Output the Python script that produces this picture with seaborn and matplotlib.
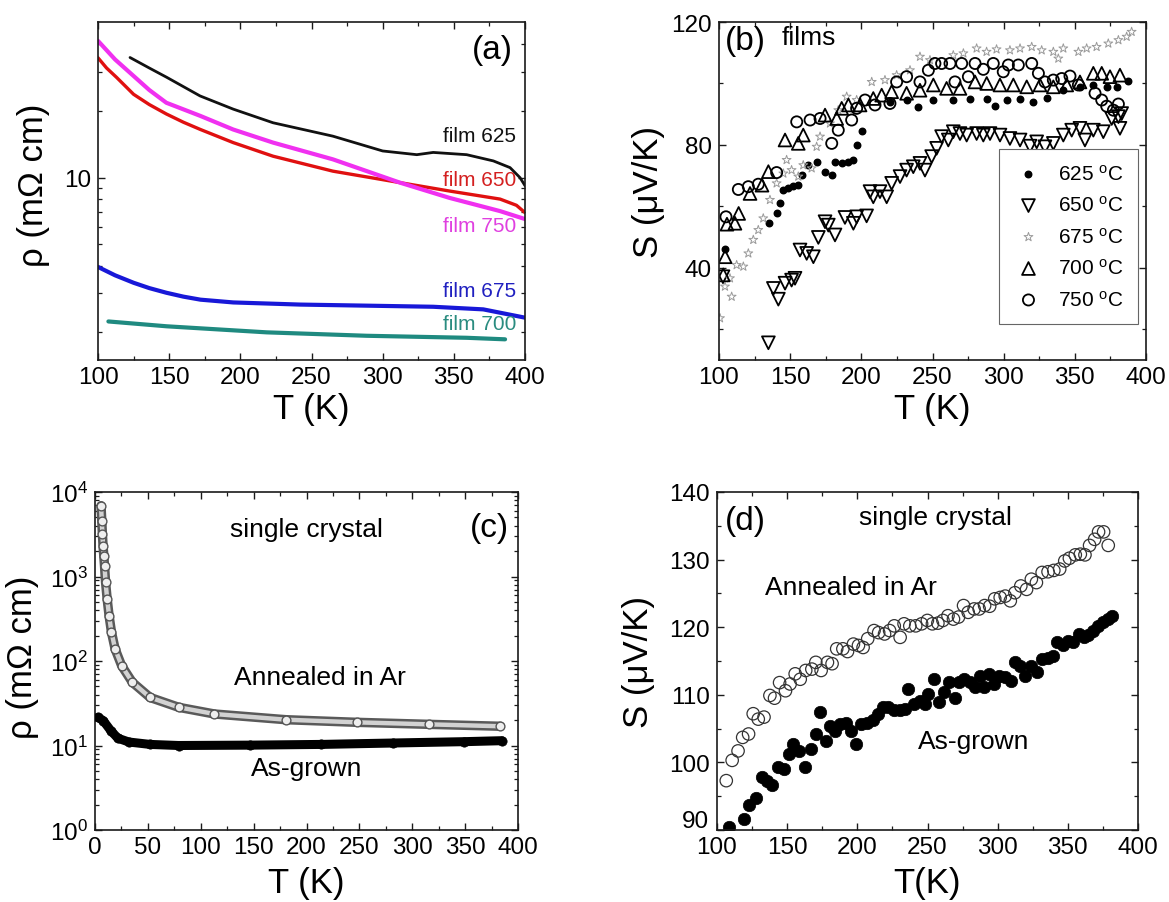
import numpy as np
import pandas as pd
import matplotlib
matplotlib.use("Agg")
import matplotlib.pyplot as plt
import matplotlib.patheffects as pe
from matplotlib.ticker import (FixedLocator, FixedFormatter, NullFormatter, FuncFormatter,
                               MultipleLocator, LogLocator, LogFormatterMathtext)
import seaborn as sns

# ---------------- (a) film resistivity ----------------
T625 = [122.5, 136, 148.3, 171.7, 195, 223, 265, 300, 324, 335.5, 359, 377.8, 389.5, 396.5, 400]
R625 = [34.9, 31.3, 28.4, 23.4, 20.4, 17.7, 15.4, 13.2, 12.7, 13.0, 12.7, 11.9, 11.1, 10.0, 9.2]

T650 = [100, 106, 113, 125, 136, 148, 160, 172, 195, 223, 265, 312, 347, 382.5, 394, 400]
R650 = [34.8, 31.3, 28.4, 23.8, 21.4, 19.4, 17.8, 16.5, 14.4, 12.5, 10.7, 9.5, 8.7, 8.0, 7.5, 6.95]

T750 = [100, 112, 125, 136, 148, 172, 195, 223, 265, 312, 347, 382.5, 400]
R750 = [41.5, 34.2, 28.8, 24.9, 21.8, 19.0, 16.5, 14.4, 12.1, 9.5, 8.1, 7.06, 6.5]

T675 = [100, 112, 125, 136, 148, 160, 172, 195, 242, 289, 335.5, 370.7, 400]
R675 = [3.95, 3.62, 3.35, 3.17, 3.02, 2.90, 2.81, 2.73, 2.67, 2.64, 2.61, 2.54, 2.33]

T700 = [107.3, 148.3, 218.5, 288.8, 359, 386]
R700 = [2.24, 2.13, 2.00, 1.93, 1.89, 1.86]

# ---------------- (b) film thermopower ----------------
T_b625 = [104.2, 135.4, 140.5, 142.9, 145.2, 148.7, 152.2, 155.7, 158.1, 162.8, 168.6,
          174.5, 179.2, 181.5, 186.2, 190.9, 194.4, 196.7, 200.2, 220.1, 231.8, 240,
          250.6, 264.6, 276.3, 288, 293.9, 302.1, 311.5, 320.8, 330.2, 341.9, 353.6,
          363, 372.4, 379.4, 387.6]
S_b625 = [46, 54.5, 57.7, 61, 65.3, 65.9, 66.6, 67, 70.2, 73.4, 74.5,
          71.3, 70.2, 74.5, 74, 74.5, 75.1, 79.9, 84.6, 94, 94.6, 92.2,
          94.6, 94.6, 95.1, 95.1, 92.6, 94.6, 95.1, 94, 95.4, 97.8, 98.9,
          99.5, 98.9, 98.9, 100.8]

T_b650 = [102.8, 134.7, 138.2, 141.7, 146.4, 151, 153.4, 156.9, 161.6, 166.3, 169.8,
          174.5, 176.8, 181.5, 188.5, 194.4, 196.7, 203.7, 206.1, 208.4, 213.1,
          217.8, 221.3, 227.2, 231.8, 236.5, 241.2, 244.7, 249.4, 252.9, 256.4,
          261.1, 264.6, 269.3, 274, 281, 285.7, 290.4, 297.4, 304.4, 311.5, 318.5,
          323.2, 329, 334.9, 341.9, 347.8, 353.6, 357.1, 363, 370, 375.9, 380.6,
          381.7, 382.9]
S_b650 = [37.1, 15.6, 33.3, 29.8, 35, 36, 36.6, 45.8, 44.7, 43.6, 49.9,
          55, 53.9, 50.7, 56.4, 54.5, 56.6, 56.9, 64.8, 63.1, 64.8,
          63.1, 67.5, 69.7, 71.8, 72.9, 74, 71.8, 76.2, 78.9, 82.7,
          81.6, 84.3, 83.7, 83.2, 83.7, 83.2, 83.7, 83.2, 82.1, 81.6, 79.6,
          81, 79.4, 80.5, 83.2, 84.8, 85.4, 81.6, 84.8, 84.3, 88.6, 89.2,
          85.4, 90.2]

T_b675 = [100.7, 104.2, 108.9, 107.7, 112.4, 117.1, 120.6, 124.1, 127.6, 131.1, 135.8,
          140.5, 145.2, 147.5, 151, 155.7, 159.2, 165.1, 168.6, 171, 178, 183.8,
          189.7, 196.7, 207.3, 216.6, 224.8, 234.2, 241.2, 248.2, 264.6, 271.7,
          281, 288, 295, 304.4, 311.5, 319.7, 326.7, 334.9, 338.4, 341.9, 352.5,
          358.3, 365.3, 373.5, 380.6, 386.4, 389.9]
S_b675 = [23.6, 33.9, 30.6, 36.6, 40.9, 40.4, 44.7, 49.1, 52.3, 56.1, 62.1,
          67.5, 70.7, 75.1, 71.8, 69.7, 73.4, 72.4, 79.4, 82.7, 87, 91.3,
          95.7, 94.6, 100.5, 101.1, 102.7, 104.3, 108.7, 107.6, 109.2, 109.8,
          111.4, 110.3, 111.1, 110.8, 111.4, 111.9, 110.8, 110.3, 108.1, 111.4, 110.3,
          111.4, 111.9, 113, 114.1, 115.2, 116.8]

T_b700 = [103, 104.3, 105.6, 111.2, 113.8, 121.8, 130.2, 134.7, 146.4, 155.7, 159.2,
          174.5, 182.7, 186.2, 190.9, 199.1, 208.4, 214.3, 221.3, 231.8, 241.2,
          250.6, 259.9, 269.3, 279.9, 288.1, 297.4, 306.8, 316.2, 325.5, 334.9,
          344.3, 353.6, 363, 368.9, 374.7, 381.7]
S_b700 = [37.7, 43.6, 54.2, 54.5, 57.7, 64.2, 66.9, 71.3, 81.6, 80.5, 83.2,
          89.7, 88.6, 91.9, 93, 93, 95.1, 96.2, 97.3, 96.8, 97.8,
          99.5, 98.4, 98.4, 100.5, 100, 99.5, 99.5, 98.9, 99.5, 98.9,
          99.5, 100.5, 103.3, 103.3, 102.2, 102.7]

T_b750 = [104.9, 113.6, 120.6, 127.6, 140.5, 154.6, 164, 171, 179.2, 183.8, 193.2,
          196.7, 202.6, 209.6, 220.1, 224.8, 231.8, 241.2, 247.1, 251.7, 256.4,
          262.3, 265.8, 270.5, 275.2, 279.9, 285.7, 292.7, 299.7, 303.3, 310.3,
          319.7, 324.4, 329, 334.9, 340.8, 346.6, 352.5, 364.2, 368.9, 372.4,
          377.1, 380.6]
S_b750 = [56.6, 65.5, 66.4, 67.2, 71, 87.5, 88.1, 88.6, 80.5, 84.8, 88.1,
          91.9, 94.6, 93, 93.5, 100.5, 102.2, 100.5, 104.3, 106.5, 106.5,
          106.5, 100.5, 106.5, 102.2, 106.5, 104.6, 106.5, 103.8, 106, 106,
          106.5, 103.3, 100.5, 101.1, 101.6, 102.4, 99.5, 96.8, 94.6, 92.6,
          91.3, 93.3]

legend_labels = ["625 $^\\mathrm{o}$C", "650 $^\\mathrm{o}$C", "675 $^\\mathrm{o}$C",
                 "700 $^\\mathrm{o}$C", "750 $^\\mathrm{o}$C"]

# ---------------- (c) single-crystal resistivity ----------------
T_ann_c = [5.7, 6.4, 7.0, 7.6, 8.3, 9.0, 10.0, 11.5, 13.3, 15.6, 19.0, 25.2, 35.3,
           52.1, 79.2, 112.9, 180.5, 248, 315.7, 383.2]
R_ann_c = [6890, 4570, 3185, 2317, 1766, 1343, 853, 542, 344, 219, 139, 88, 56,
           37, 28.3, 23.6, 20.2, 18.8, 17.8, 16.9]

T_grown_c = [3, 7.8, 14.9, 21.6, 32, 52, 79, 146.5, 214, 281.6, 349, 384.7]
R_grown_c = [21.5, 19.7, 15.0, 12.2, 11.0, 10.3, 10.0, 10.1, 10.3, 10.7, 11.1, 11.4]

# ---------------- (d) single-crystal thermopower ----------------
T_ann_d = [106.6, 110.8, 115, 118.3, 122.5, 125.8, 129.4, 133.5, 137.7, 141, 144.6,
           148.8, 152.1, 155.7, 159.3, 163.2, 167.6, 170.4, 174.2, 178.7, 182,
           185.3, 189.7, 193, 197.2, 200.8, 204.1, 207.4, 211.9, 215.2, 219.4,
           223, 226.3, 230.5, 233.3, 237.4, 241.6, 245.8, 249.9, 253.5, 257.4,
           261, 264.6, 268.5, 272.1, 275.7, 279, 283.2, 286.8, 290.7, 294.3,
           297.9, 301.8, 305.4, 309, 312.3, 316.5, 320.6, 324, 327.6, 331.7,
           335.9, 340, 344.2, 347.8, 351.1, 355.3, 358.9, 362.2, 365.5, 369.1,
           371.9, 375.5, 378.8]
S_ann_d = [97.3, 100.3, 101.7, 103.7, 104.2, 107.2, 106.4, 106.7, 109.9, 109.5, 111.8,
           110.6, 111.6, 113.1, 112.3, 113.6, 113.8, 114.8, 113.6, 114.8, 114.6,
           116.8, 116.8, 116.4, 117.5, 117.3, 117, 118.3, 119.5, 119.2, 119,
           119.5, 120.2, 118.5, 120.5, 120.2, 120.2, 120.5, 121, 120.5, 120.6,
           121, 121.7, 121.2, 121.5, 123.2, 122.2, 122.7, 122.7, 123.2, 123.1,
           124.2, 124.4, 124.6, 123.9, 125.1, 126.1, 125.6, 127.1, 126.6, 128.1,
           128.2, 128.4, 128.6, 129.8, 130.2, 130.7, 130.8, 130.7, 132.1, 133,
           134.1, 134.1, 132.1]

T_grown_d = [108.6, 119.1, 123, 128, 132.2, 135.8, 139.1, 143.2, 147.4, 151, 154.3,
             158.4, 162.6, 166.8, 170.4, 173.7, 177.9, 180.6, 184.2, 187.5, 191.7,
             195.3, 199.2, 202.8, 206.9, 211.1, 214.7, 218.6, 222.2, 226.3, 230.5,
             234.1, 236, 240.2, 244.3, 247.9, 250.7, 254.6, 258.2, 261.8, 265.1,
             269.3, 272.8, 276.1, 280.3, 283.9, 287.2, 290.5, 294.1, 297.7, 301,
             305.2, 309.3, 312.7, 316.2, 319.8, 323.7, 328.1, 331.4, 335.6, 339.7,
             342.5, 346.7, 350.3, 353.6, 357.8, 361.4, 364.7, 368, 371.6, 375.2,
             378.5, 381.8]
S_grown_d = [90.4, 91.6, 93.7, 94.8, 97.8, 97.3, 96.6, 99.3, 99, 101.2, 102.7,
             101.7, 99.3, 102, 104.2, 107.4, 103.2, 105.4, 104.7, 105.7, 105.9,
             104.7, 102.7, 105.7, 105.9, 106.2, 107.2, 108.2, 108.2, 107.7, 107.7,
             107.9, 110.9, 108.6, 109.1, 108.6, 110.1, 112.3, 108.9, 110.4, 111.9,
             109.6, 111.9, 112.3, 111.9, 111.1, 112.8, 111.1, 113.1, 111.6, 112.8,
             112.6, 112.1, 114.8, 114.3, 112.8, 114.3, 113.3, 115.3, 115.5, 115.8,
             117.8, 117.3, 118, 117.8, 119, 118.5, 118.8, 119.5, 120.2, 120.7,
             121.2, 121.7]

# ---------------- styling ----------------
sns.set_theme(style="ticks")
plt.rcParams.update({
    "font.family": ["Liberation Sans", "DejaVu Sans"],
    "mathtext.fontset": "custom",
    "mathtext.rm": "Liberation Sans",
    "mathtext.it": "Liberation Sans:italic",
    "mathtext.bf": "Liberation Sans:bold",
    "text.color": "black",
    "axes.labelcolor": "black",
    "axes.edgecolor": "#1a1a1a",
    "axes.linewidth": 1.2,
    "xtick.direction": "in",
    "ytick.direction": "in",
    "xtick.top": True,
    "ytick.right": True,
    "xtick.major.size": 5,
    "ytick.major.size": 5,
    "xtick.minor.size": 2.8,
    "ytick.minor.size": 2.8,
    "xtick.major.width": 1.0,
    "ytick.major.width": 1.0,
    "xtick.minor.width": 0.9,
    "ytick.minor.width": 0.9,
    "xtick.color": "#1a1a1a",
    "ytick.color": "#1a1a1a",
    "xtick.labelcolor": "black",
    "ytick.labelcolor": "black",
    "xtick.labelsize": 17.5,
    "ytick.labelsize": 17.5,
    "xtick.major.pad": 4.5,
    "ytick.major.pad": 5,
})
TICK_FS = 17.5

W, H = 1169, 903
fig = plt.figure(figsize=(W / 100, H / 100), dpi=100)


def frame(x0, y0, x1, y1):
    return fig.add_axes([x0 / W, 1 - y1 / H, (x1 - x0) / W, (y1 - y0) / H])


ax_a = frame(98, 23, 525, 361)
ax_b = frame(719, 23, 1146, 361)
ax_c = frame(95, 493, 518, 831)
ax_d = frame(717, 493, 1138, 831)

LAB = 25

# (a)
film_styles = [
    (T625, R625, "#111111", 2.0),
    (T650, R650, "#e01010", 2.4),
    (T750, R750, "#f030f0", 3.0),
    (T675, R675, "#1818d8", 3.0),
    (T700, R700, "#1f8a80", 3.0),
]
for t, r, c, lw in film_styles:
    sns.lineplot(x=t, y=r, ax=ax_a, color=c, linewidth=lw, estimator=None, sort=False)
ax_a.set_yscale("log")
ax_a.set_xlim(100, 400)
ax_a.set_ylim(1.5, 50.5)
ax_a.xaxis.set_major_locator(MultipleLocator(50))
ax_a.xaxis.set_minor_locator(MultipleLocator(25))
ax_a.yaxis.set_major_locator(FixedLocator([10]))
ax_a.yaxis.set_major_formatter(FixedFormatter(["10"]))
ax_a.yaxis.set_minor_locator(FixedLocator([2, 3, 4, 5, 6, 7, 8, 9, 20, 30, 40]))
ax_a.yaxis.set_minor_formatter(NullFormatter())
film_labels = [("film 625", 0.664, "#111111"), ("film 650", 0.533, "#d42020"),
               ("film 750", 0.397, "#e040e0"), ("film 675", 0.205, "#2020c0"),
               ("film 700", 0.109, "#2a8c80")]
for txt, yy, c in film_labels:
    ax_a.text(0.979, yy, txt, transform=ax_a.transAxes, ha="right", va="center",
              fontsize=15, color=c)
ax_a.text(0.972, 0.92, "(a)", transform=ax_a.transAxes, ha="right", va="center", fontsize=24)
ax_a.set_xlabel("T (K)", fontsize=LAB)
ax_a.set_ylabel("ρ (mΩ cm)", fontsize=LAB)
ax_a.xaxis.set_label_coords(0.5, -0.095)
ax_a.yaxis.set_label_coords(-0.112, 0.52)

# (b)
b_series = [
    (T_b625, S_b625, "o", 22, "black", "black", 1.0),
    (T_b650, S_b650, "v", 85, "none", "black", 1.3),
    (T_b675, S_b675, "*", 45, "none", "#9a9a9a", 0.7),
    (T_b700, S_b700, "^", 85, "none", "black", 1.3),
    (T_b750, S_b750, "o", 64, "none", "black", 1.3),
]
for (t, s, m, sz, fc, ec, lw), lab in zip(b_series, legend_labels):
    sns.scatterplot(x=t, y=s, ax=ax_b, marker=m, s=sz, color=ec, facecolor=fc,
                    edgecolor=ec, linewidth=lw, label=lab)
ax_b.set_xlim(100, 400)
ax_b.set_ylim(10, 120)
ax_b.xaxis.set_major_locator(MultipleLocator(50))
ax_b.xaxis.set_minor_locator(MultipleLocator(25))
ax_b.yaxis.set_major_locator(MultipleLocator(40))
ax_b.yaxis.set_minor_locator(MultipleLocator(20))
leg = ax_b.legend(loc="lower right", bbox_to_anchor=(0.981, 0.1065), borderaxespad=0,
                  fontsize=15, labelspacing=0.55, handletextpad=0.7, borderpad=0.7,
                  handlelength=1.4, frameon=True, fancybox=False, framealpha=1,
                  edgecolor="#666666")
leg.get_frame().set_linewidth(0.8)
ax_b.text(0.014, 0.945, "(b)", transform=ax_b.transAxes, ha="left", va="center", fontsize=24)
ax_b.text(0.146, 0.956, "films", transform=ax_b.transAxes, ha="left", va="center", fontsize=19)
ax_b.set_xlabel("T (K)", fontsize=LAB)
ax_b.set_ylabel("S (μV/K)", fontsize=LAB)
ax_b.xaxis.set_label_coords(0.5, -0.095)
ax_b.yaxis.set_label_coords(-0.126, 0.501)

# (c)
sns.lineplot(x=T_ann_c, y=R_ann_c, ax=ax_c, color="#d2d2d2", linewidth=3.2,
             estimator=None, sort=False,
             path_effects=[pe.Stroke(linewidth=6.8, foreground="#5a5a5a"), pe.Normal()])
sns.scatterplot(x=T_ann_c, y=R_ann_c, ax=ax_c, marker="o", s=40, color="#555555",
                facecolor="#eeeeee", edgecolor="#555555", linewidth=1.0, zorder=3)
sns.lineplot(x=T_grown_c, y=R_grown_c, ax=ax_c, color="black", linewidth=6.5,
             estimator=None, sort=False, solid_capstyle="round")
sns.scatterplot(x=T_grown_c, y=R_grown_c, ax=ax_c, marker="o", s=45, color="black",
                edgecolor="black", linewidth=0.5, zorder=3)
ax_c.set_yscale("log")
ax_c.set_xlim(0, 400)
ax_c.set_ylim(1, 1e4)
ax_c.xaxis.set_major_locator(MultipleLocator(50))
ax_c.xaxis.set_minor_locator(MultipleLocator(25))
ax_c.yaxis.set_major_locator(LogLocator(base=10, numticks=10))
ax_c.yaxis.set_major_formatter(LogFormatterMathtext())
ax_c.yaxis.set_minor_locator(LogLocator(base=10, subs=np.arange(2, 10), numticks=20))
ax_c.yaxis.set_minor_formatter(NullFormatter())
ax_c.text(0.979, 0.896, "(c)", transform=ax_c.transAxes, ha="right", va="center", fontsize=24)
ax_c.text(0.501, 0.891, "single crystal", transform=ax_c.transAxes, ha="center", va="center", fontsize=19)
ax_c.text(0.532, 0.453, "Annealed in Ar", transform=ax_c.transAxes, ha="center", va="center", fontsize=19)
ax_c.text(0.501, 0.183, "As-grown", transform=ax_c.transAxes, ha="center", va="center", fontsize=19)
ax_c.set_xlabel("T (K)", fontsize=LAB)
ax_c.set_ylabel("ρ (mΩ cm)", fontsize=LAB)
ax_c.xaxis.set_label_coords(0.5, -0.107)
ax_c.yaxis.set_label_coords(-0.132, 0.515)

# (d)
sns.scatterplot(x=T_ann_d, y=S_ann_d, ax=ax_d, marker="o", s=80, color="#333333",
                facecolor="none", edgecolor="#333333", linewidth=0.9)
sns.scatterplot(x=T_grown_d, y=S_grown_d, ax=ax_d, marker="o", s=80, color="black",
                edgecolor="black", linewidth=0.5)
D_YMIN, D_YMAX = 90, 140
ax_d.set_xlim(100, 400)
ax_d.set_ylim(D_YMIN, D_YMAX)
ax_d.xaxis.set_major_locator(MultipleLocator(50))
ax_d.xaxis.set_minor_locator(MultipleLocator(25))
ax_d.yaxis.set_major_locator(MultipleLocator(10))
ax_d.yaxis.set_minor_locator(MultipleLocator(5))
# the lowest y label sits a little higher so it clears the first x label
ax_d.yaxis.set_major_formatter(FuncFormatter(lambda v, p: "" if abs(v - D_YMIN) < 1e-6 else f"{v:.0f}"))
ax_d.annotate(f"{D_YMIN}", xy=(0, D_YMIN), xycoords=("axes fraction", "data"),
              xytext=(-8, 9), textcoords="offset pixels", ha="right", va="center",
              fontsize=TICK_FS)
ax_d.text(0.019, 0.915, "(d)", transform=ax_d.transAxes, ha="left", va="center", fontsize=24)
ax_d.text(0.518, 0.926, "single crystal", transform=ax_d.transAxes, ha="center", va="center", fontsize=19)
ax_d.text(0.319, 0.719, "Annealed in Ar", transform=ax_d.transAxes, ha="center", va="center", fontsize=19)
ax_d.text(0.61, 0.264, "As-grown", transform=ax_d.transAxes, ha="center", va="center", fontsize=19)
ax_d.set_xlabel("T(K)", fontsize=LAB)
ax_d.set_ylabel("S (μV/K)", fontsize=LAB)
ax_d.xaxis.set_label_coords(0.5, -0.107)
ax_d.yaxis.set_label_coords(-0.147, 0.5)

for ax in (ax_a, ax_b, ax_c, ax_d):
    ax.tick_params(which="both", top=True, right=True)
    for sp in ax.spines.values():
        sp.set_visible(True)
    if ax.get_legend() is not None and ax is not ax_b:
        ax.get_legend().remove()

fig.savefig("out.png", dpi=100, facecolor="white")
